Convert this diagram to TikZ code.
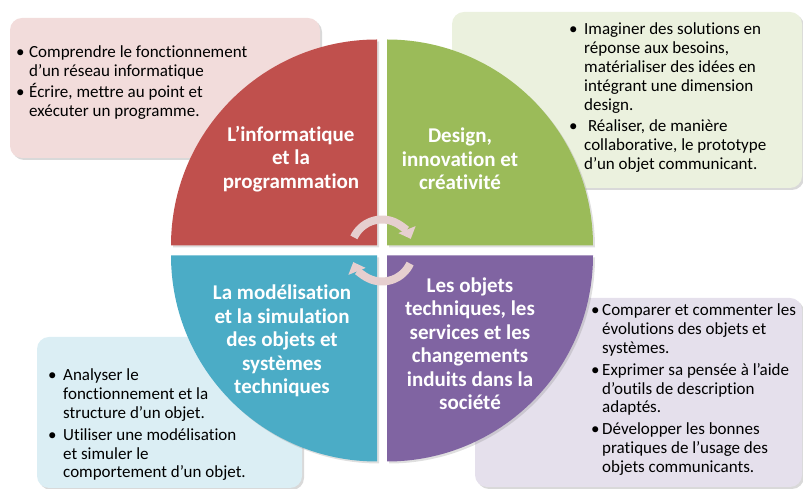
\documentclass[tikz,border=0pt]{standalone}
\usepackage{fontspec}
\setmainfont{Carlito}[Ligatures={NoCommon}]
\usetikzlibrary{positioning, arrows.meta, shadows}
\definecolor{infoDark}{HTML}{C0504D}
\definecolor{infoLight}{HTML}{F2DCDB}
\definecolor{designDark}{HTML}{9BBB59}
\definecolor{designLight}{HTML}{EBF1DE}
\definecolor{modelDark}{HTML}{4BACC6}
\definecolor{modelLight}{HTML}{DBEEF4}
\definecolor{socDark}{HTML}{8064A2}
\definecolor{socLight}{HTML}{E5E0EC}
\definecolor{loopPink}{HTML}{E6CFCF}
\newcommand{\itemlist}[2]{\begin{tabular}[t]{@{}p{#1}@{}l@{}}#2\end{tabular}}
\tikzset{
  panel/.style={
    rectangle,
    rounded corners=12pt,
    inner sep=0pt,
    drop shadow={shadow xshift=2pt, shadow yshift=-2pt, opacity=0.3}
  },
  quarter/.style={
    drop shadow={shadow xshift=2pt, shadow yshift=-2pt, opacity=0.25}
  },
  title/.style={
    text=white,
    font=\fontsize{21}{23.5}\selectfont\bfseries,
    align=center
  },
  items/.style={
    anchor=base west,
    inner sep=0pt,
    font=\fontsize{17}{18.8}\selectfont
  },
  turn/.style={
    line width=8pt,
    draw=loopPink,
    -{Triangle[width=18pt, length=10pt]}
  }
}

\begin{document}
\begin{tikzpicture}[x=1pt, y=1pt]
    \useasboundingbox (0,0) rectangle (803,489);

    \node[panel, fill=infoLight, minimum width=310pt, minimum height=140pt] (boxInfo) at (165,401) {};
    \node[panel, fill=designLight, minimum width=350pt, minimum height=176pt] (boxDesign) at (627,389) {};
    \node[panel, fill=modelLight, minimum width=265pt, minimum height=151pt] (boxModel) at (169.5,76.5) {};
    \node[panel, fill=socLight, minimum width=327pt, minimum height=189pt] (boxSoc) at (638.5,96.5) {};

    \node[items] (listInfo) at (16,431) {\itemlist{13pt}{
        • & Comprendre le fonctionnement\\
          & d’un réseau informatique\\[1pt]
        • & Écrire, mettre au point et\\
          & exécuter un programme.}};
    \node[items] (listDesign) at (569,454) {\itemlist{15pt}{
        • & Imaginer des solutions en\\
          & réponse aux besoins,\\
          & matérialiser des idées en\\
          & intégrant une dimension\\
          & design.\\[3pt]
        • & \ Réaliser, de manière\\
          & collaborative, le prototype\\
          & d’un objet communicant.}};
    \node[items] (listModel) at (48,108) {\itemlist{15pt}{
        • & Analyser le\\
          & fonctionnement et la\\
          & structure d’un objet.\\[3pt]
        • & Utiliser une modélisation\\
          & et simuler le\\
          & comportement d’un objet.}};
    \node[items] (listSoc) at (591,173) {\itemlist{11pt}{
        • & Comparer et commenter les\\
          & évolutions des objets et\\
          & systèmes.\\[3pt]
        • & Exprimer sa pensée à l’aide\\
          & d’outils de description\\
          & adaptés.\\[3pt]
        • & Développer les bonnes\\
          & pratiques de l’usage des\\
          & objets communicants.}};

    \fill[quarter, infoDark] (377,243.5) -- (171,243.5) arc[start angle=180, end angle=90, radius=206pt] -- cycle;
    \fill[quarter, designDark] (387,243.5) -- (387,449.5) arc[start angle=90, end angle=0, radius=206pt] -- cycle;
    \fill[quarter, modelDark] (377,233.5) -- (171,233.5) arc[start angle=180, end angle=270, radius=206pt] -- cycle;
    \fill[quarter, socDark] (387,233.5) -- (593,233.5) arc[start angle=0, end angle=-90, radius=206pt] -- cycle;

    \node[title] (titleInfo) at (291,330) {L’informatique\\et la\\programmation};
    \node[title] (titleDesign) at (460,330) {Design,\\innovation et\\créativité};
    \node[title] (titleModel) at (282,148) {La modélisation\\et la simulation\\des objets et\\systèmes\\techniques};
    \node[title] (titleSoc) at (470,145.5) {Les objets\\techniques, les\\services et les\\changements\\induits dans la\\société};

    \coordinate (hub) at (382,238.5);
    \draw[turn] ([shift={(155:31pt)}]hub) arc[start angle=155, end angle=22, radius=31pt];
    \draw[turn] ([shift={(-25:31pt)}]hub) arc[start angle=-25, end angle=-158, radius=31pt];
\end{tikzpicture}
\end{document}
